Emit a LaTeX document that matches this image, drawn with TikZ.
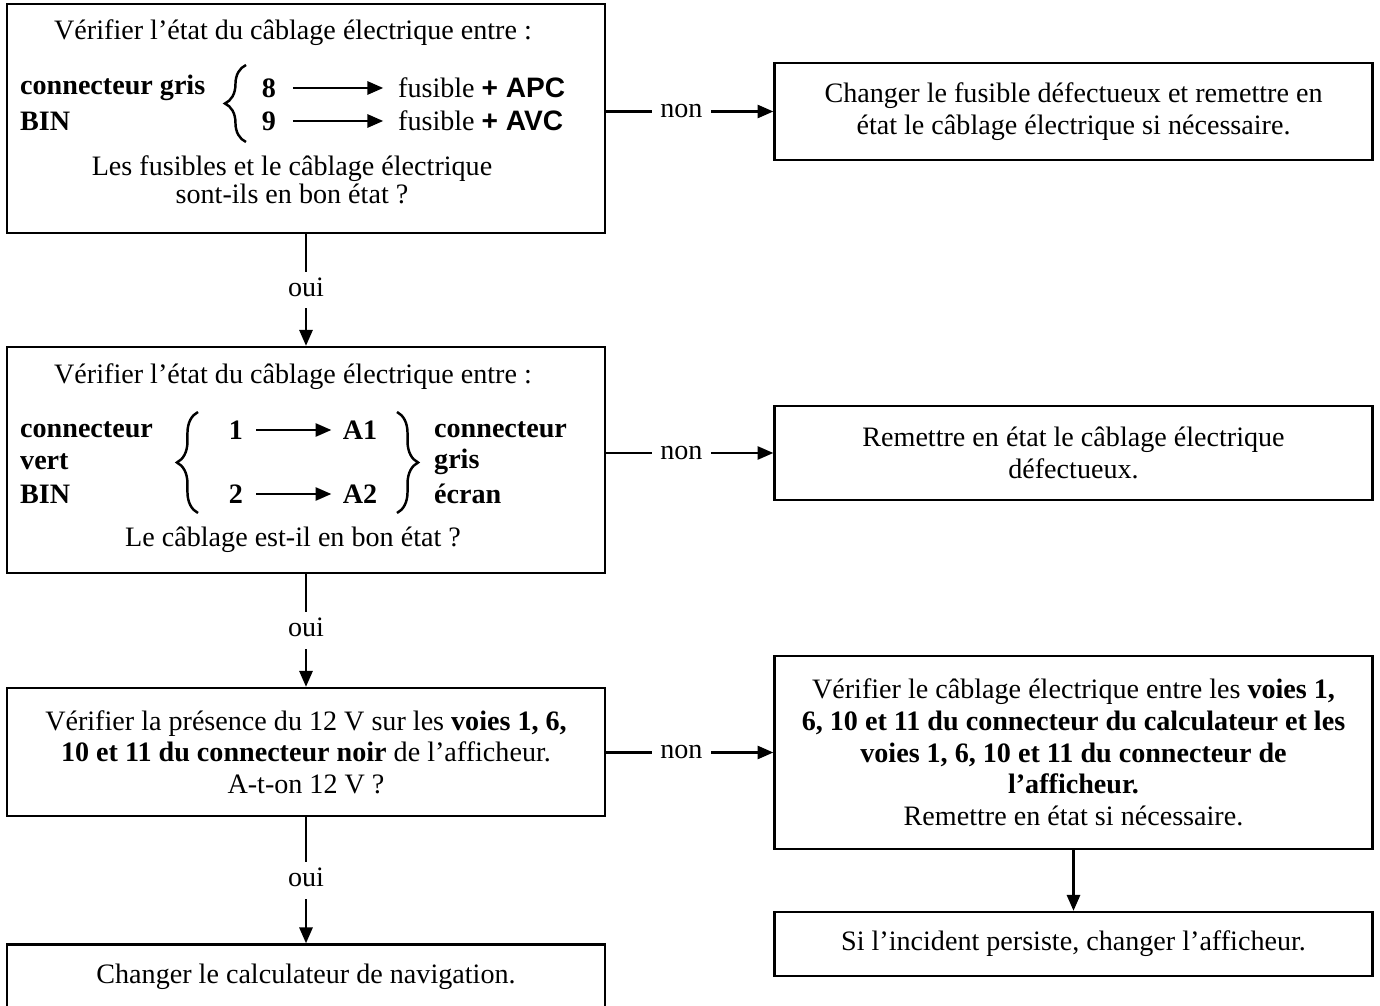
\documentclass[tikz,border=0pt]{standalone}
\usepackage{fontspec}
\setmainfont{Liberation Serif}
\newfontfamily\apcfont{Liberation Sans}
\usetikzlibrary{positioning,arrows.meta,decorations.pathreplacing}

\begin{document}
\begin{tikzpicture}[
        x=0.02cm, y=-0.02cm,
        font=\fontsize{16}{18}\selectfont,
        box/.style={draw, line width=1.4pt, minimum width=11.96cm, align=center},
        lbl/.style={fill=white, inner xsep=5pt, inner ysep=7pt, text height=1.5ex, text depth=0pt},
        arr/.style={line width=1.3pt, -{Triangle[length=9pt,width=7.5pt]}},
        brc/.style={line width=1.4pt, decorate, decoration={brace, amplitude=12pt}}
    ]
    \useasboundingbox (0,0) rectangle (1380,1006);
    \clip (0,0) rectangle (1380,1006);

% --- Box 1: fuses ---
        \node[box, minimum height=4.58cm] (chk1) at (306,118.5) {};
        \node (t1) at (293,33) {Vérifier l'état du câblage électrique entre :};
        \node[anchor=west] (cg) at (14,88) {\textbf{connecteur gris}};
        \node[anchor=west] (bin1) at (14,121) {\textbf{BIN}};
        \draw[brc] (246,142) -- (246,65);
        \node (p8) at (269,88) {\textbf{8}};
        \node (p9) at (269,121) {\textbf{9}};
        \node[anchor=west] (apc) at (392,88) {fusible {\apcfont\bfseries + APC}};
        \node[anchor=west] (avc) at (392,121) {fusible {\apcfont\bfseries + AVC}};
        \draw[arr, shorten <=6pt, shorten >=5pt] (p8) -- (apc);
        \draw[arr, shorten <=6pt, shorten >=5pt] (p9) -- (avc);
        \node[align=center] (q1) at (292,180) {Les fusibles et le câblage électrique\\[-2pt]sont-ils en bon état ?};

% --- Box 2: BIN / screen ---
        \node[box, minimum height=4.52cm] (chk2) at (306,460) {};
        \node (t2) at (293,377) {Vérifier l'état du câblage électrique entre :};
        \node[anchor=west] (cv1) at (14,430) {\textbf{connecteur}};
        \node[anchor=west] (cv2) at (14,462) {\textbf{vert}};
        \node[anchor=west] (cv3) at (14,494) {\textbf{BIN}};
        \draw[brc] (198,513) -- (198,412);
        \node (p1) at (236,430) {\textbf{1}};
        \node (p2) at (236,494) {\textbf{2}};
        \node (a1) at (360,430) {\textbf{A1}};
        \node (a2) at (360,494) {\textbf{A2}};
        \draw[arr, shorten <=4pt, shorten >=3pt] (p1) -- (a1);
        \draw[arr, shorten <=4pt, shorten >=3pt] (p2) -- (a2);
        \draw[brc] (397,412) -- (397,513);
        \node[anchor=west] (cr1) at (428,430) {\textbf{connecteur}};
        \node[anchor=west] (cr2) at (428,462) {\textbf{gris}};
        \node[anchor=west] (cr3) at (428,494) {\textbf{écran}};
        \node (q2) at (293,540) {Le câblage est-il en bon état ?};

% --- Box 3 and 4 ---
        \node[box, minimum height=2.56cm] (chk3) at (306,752) {Vérifier la présence du 12 V sur les \textbf{voies 1, 6,}\\ \textbf{10 et 11 du connecteur noir} de l'afficheur.\\ A-t-on 12 V ?};
        \node[box, minimum height=1.3cm] (fin) at (306,977) {Changer le calculateur de navigation.};

% --- Right column ---
        \node[box, minimum height=1.94cm] (fix1) at (1073.5,111.5) {Changer le fusible défectueux et remettre en\\ état le câblage électrique si nécessaire.};
        \node[box, minimum height=1.88cm] (fix2) at (1073.5,453) {Remettre en état le câblage électrique\\ défectueux.};
        \node[box, minimum height=3.86cm] (fix3) at (1073.5,752.5) {Vérifier le câblage électrique entre les \textbf{voies 1,}\\ \textbf{6, 10 et 11 du connecteur du calculateur et les}\\ \textbf{voies 1, 6, 10 et 11 du connecteur de}\\ \textbf{l'afficheur.}\\ Remettre en état si nécessaire.};
        \node[box, minimum height=1.28cm] (fix4) at (1073.5,944) {Si l'incident persiste, changer l'afficheur.};

% --- Connectors ---
        \draw[arr] (chk1) -- node[lbl] {oui} (chk2);
        \draw[arr] (chk2) -- node[lbl] {oui} (chk3);
        \draw[arr] (chk3) -- node[lbl] {oui} (fin);
        \draw[arr] (chk1.east |- fix1.west) -- node[lbl, pos=0.45] {non} (fix1.west);
        \draw[arr] (chk2.east |- fix2.west) -- node[lbl, pos=0.45] {non} (fix2.west);
        \draw[arr] (chk3.east |- fix3.west) -- node[lbl, pos=0.45] {non} (fix3.west);
        \draw[arr] (fix3) -- (fix4);

    \end{tikzpicture}
\end{document}
